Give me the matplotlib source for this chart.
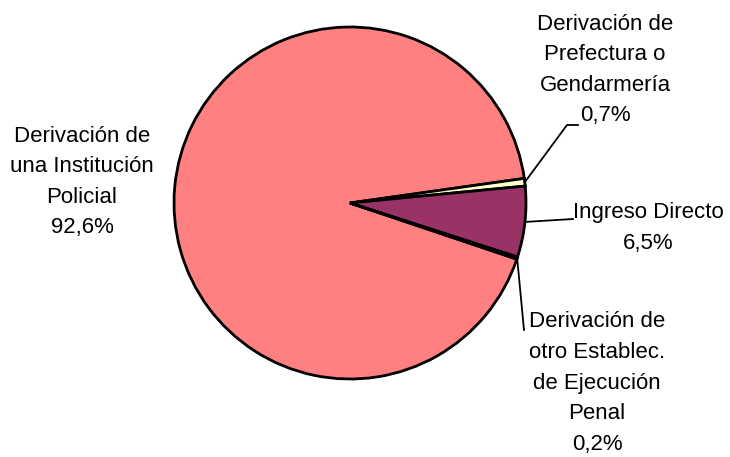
import numpy as np
import matplotlib.pyplot as plt

# participación por tipo de ingreso (%)
categorias = [
    "Derivación de\nuna Institución\nPolicial",
    "Derivación de\nPrefectura o\nGendarmería",
    "Ingreso Directo",
    "Derivación de\notro Establec.\nde Ejecución\nPenal",
]
valores = [92.6, 0.7, 6.5, 0.2]
etiquetas = ["92,6%", "0,7%", "6,5%", "0,2%"]
colores = ["#FF8080", "#FFFFCC", "#993366", "#CCFFFF"]


def main():
    plt.rcParams["font.family"] = ["Liberation Sans", "DejaVu Sans"]
    fig = plt.figure(figsize=(7.3, 4.57), dpi=100)
    # pie centre at pixel (350, 203), radius 176 px
    ax = fig.add_axes([(350 - 176) / 730, (254 - 176) / 457, 352 / 730, 352 / 457])

    start = -18.6
    wedges, _ = ax.pie(
        valores, colors=colores, startangle=start, counterclock=False,
        radius=1.0, wedgeprops=dict(edgecolor="black", linewidth=2),
    )
    ax.set_xlim(-1, 1)
    ax.set_ylim(-1, 1)
    ax.axis("off")

    def px(x, y):
        return (x - 350) / 176, (203 - y) / 176

    def borde(w):
        ang = np.deg2rad((w.theta1 + w.theta2) / 2)
        return np.cos(ang), np.sin(ang)

    fs = 16
    ls = 1.6
    # Policial, no leader line
    x, y = px(82, 182)
    ax.text(x, y, categorias[0] + "\n" + etiquetas[0], ha="center", va="center",
            fontsize=fs, linespacing=ls, clip_on=False)

    # Prefectura
    ex, ey = borde(wedges[1])
    p1 = px(567, 125)
    p2 = px(578, 125)
    ax.plot([ex, p1[0], p2[0]], [ey, p1[1], p2[1]], color="black", lw=1.3, clip_on=False)
    x, y = px(605, 70)
    ax.text(x, y, categorias[1] + "\n" + etiquetas[1], ha="center", va="center",
            fontsize=fs, linespacing=ls, clip_on=False)

    # Ingreso Directo
    ex, ey = borde(wedges[2])
    p1 = px(573, 219)
    ax.plot([ex, p1[0]], [ey, p1[1]], color="black", lw=1.3, clip_on=False)
    x, y = px(648, 228)
    ax.text(x, y, categorias[2] + "\n" + etiquetas[2], ha="center", va="center",
            fontsize=fs, linespacing=ls, clip_on=False)

    # otro Establec.
    ex, ey = borde(wedges[3])
    p1 = px(524, 330)
    ax.plot([ex, p1[0]], [ey, p1[1]], color="black", lw=1.3, clip_on=False)
    x, y = px(597, 383)
    ax.text(x, y, categorias[3] + "\n" + etiquetas[3], ha="center", va="center",
            fontsize=fs, linespacing=ls, clip_on=False)

    fig.savefig("out.png", dpi=100)


if __name__ == "__main__":
    main()
